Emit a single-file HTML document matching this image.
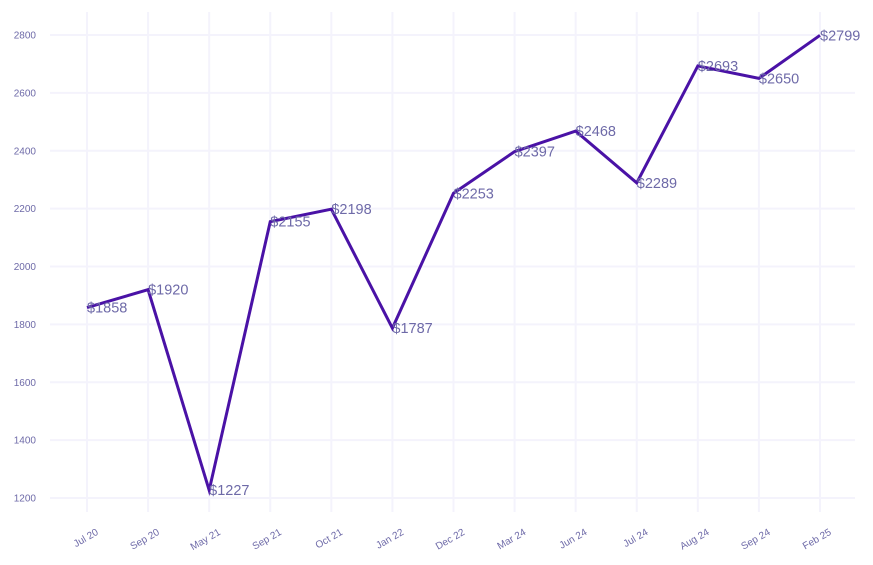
<!DOCTYPE html>
<html><head><meta charset="utf-8"><style>
body{margin:0;background:#fff}
svg{display:block;font-family:"Liberation Sans",sans-serif}
</style></head><body>
<svg id="chart" width="873" height="565" viewBox="0 0 873 565" xmlns="http://www.w3.org/2000/svg">
<g id="grid"></g>
<g id="yaxis"></g>
<g id="xaxis"></g>
<g id="series"></g>
<g id="labels"></g>
</svg>
<script>
const categories=["Jul 20","Sep 20","May 21","Sep 21","Oct 21","Jan 22","Dec 22","Mar 24","Jun 24","Jul 24","Aug 24","Sep 24","Feb 25"];
const values=[1858,1920,1227,2155,2198,1787,2253,2397,2468,2289,2693,2650,2799];
const yTicks=[1200,1400,1600,1800,2000,2200,2400,2600,2800];
const NS="http://www.w3.org/2000/svg";
function x(i){return 87+i*(820-87)/(categories.length-1);}
function y(v){return 498-(v-1200)*(498-35)/1600;}
function mk(t,a,p){const e=document.createElementNS(NS,t);for(const k in a)e.setAttribute(k,a[k]);p.appendChild(e);return e;}
const grid=document.getElementById('grid'),ya=document.getElementById('yaxis'),xa=document.getElementById('xaxis'),se=document.getElementById('series'),lb=document.getElementById('labels');
yTicks.forEach(v=>{
 const l=mk('line',{x1:50,x2:855,y1:y(v),y2:y(v),stroke:'#f4f3fc','stroke-width':2},grid);
 
 
 const t=mk('text',{x:36,y:y(v)+3.5,'text-anchor':'end','font-size':10,fill:'#6e6aa8'},ya);
 t.textContent=v;
 
 
});
categories.forEach((c,i)=>{
 const l=mk('line',{x1:x(i),x2:x(i),y1:12,y2:512,stroke:'#f4f3fc','stroke-width':2},grid);
 
 
 const t=mk('text',{x:x(i)+12,y:534,'text-anchor':'end','font-size':10,fill:'#6e6aa8',transform:`rotate(-30 ${x(i)+12} 534)`},xa);
 t.textContent=c;
 
 
});
const p=mk('polyline',{points:values.map((v,i)=>x(i)+','+y(v)).join(' '),fill:'none',stroke:'#4a12a6','stroke-width':3,'stroke-linejoin':'miter'},se);


values.forEach((v,i)=>{
 const t=mk('text',{x:x(i),y:y(v)+5,'font-size':14.5,fill:'#6e6aa8'},lb);
 t.textContent='$'+v;
 
 
});
</script>
</body></html>
